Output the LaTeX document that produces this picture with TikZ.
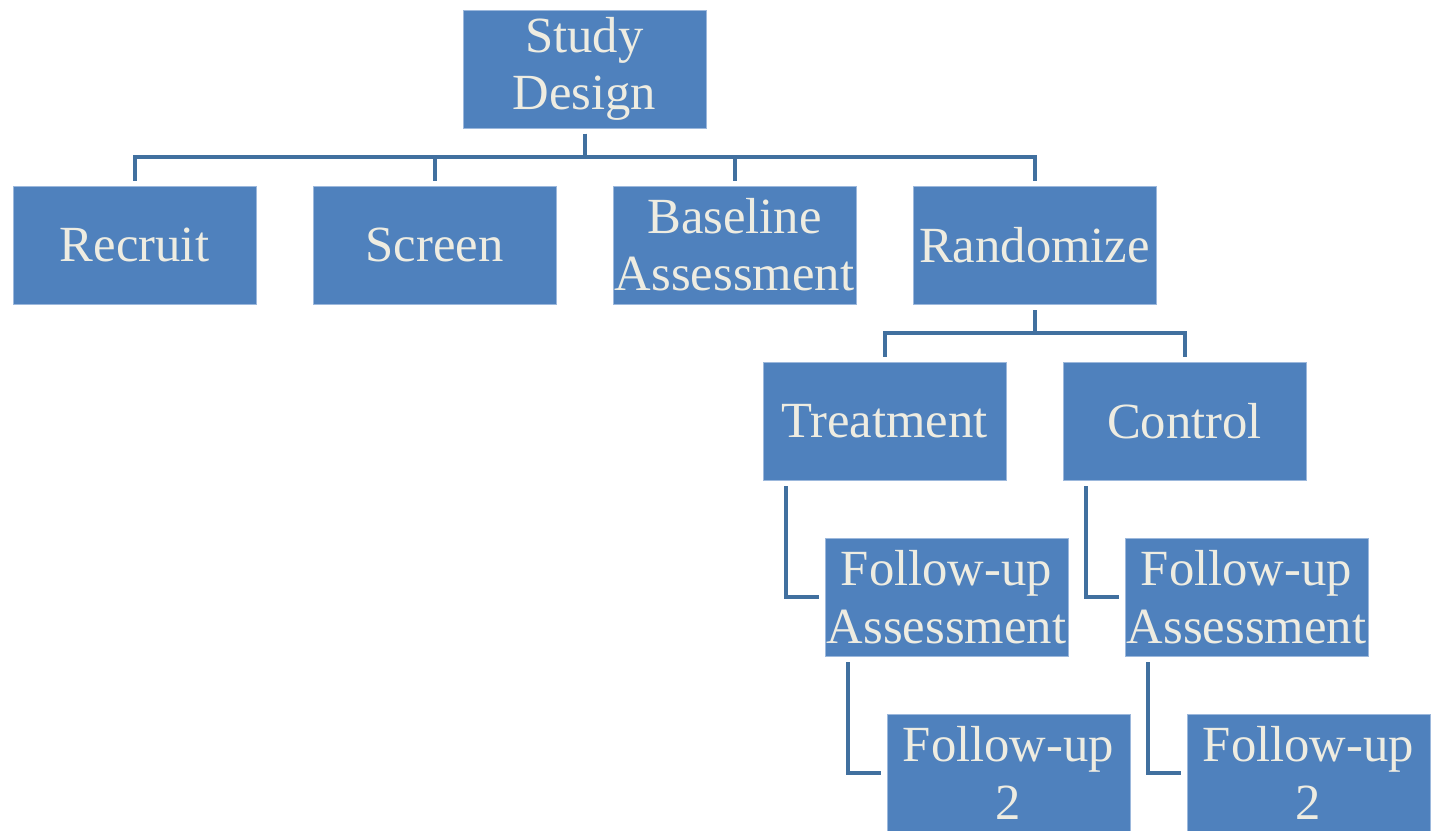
\documentclass[tikz,border=0pt]{standalone}
\usepackage{fontspec}
\setmainfont{Liberation Serif}
\usetikzlibrary{positioning}
\definecolor{boxblue}{HTML}{4F81BD}
\definecolor{edgeblue}{HTML}{9CB8DC}
\definecolor{lineblue}{HTML}{41709F}
\definecolor{boxtext}{HTML}{EEECE1}

\begin{document}
\begin{tikzpicture}[x=0.75pt,y=-0.75pt,
        node distance=43.5pt and 42.75pt,
        stage/.style={rectangle, fill=boxblue, draw=edgeblue, line width=0.6pt,
            minimum width=182.25pt, minimum height=88.5pt, inner sep=0pt, outer sep=0pt,
            align=center, text=boxtext, font=\fontsize{38}{43}\selectfont},
        conn/.style={draw=lineblue, line width=3pt, line join=miter}]
        \useasboundingbox (0,0) rectangle (1439,831);
        \node[stage] (study) at (584.5,69) {Study\\Design};
        \node[stage, below=of study, xshift=-337.5pt] (recruit) {Recruit};
        \node[stage, right=of recruit] (screen) {Screen};
        \node[stage, right=of screen] (baseline) {Baseline\\Assessment};
        \node[stage, right=of baseline] (randomize) {Randomize};
        \node[stage, below=of randomize, xshift=-112.5pt] (treatment) {Treatment};
        \node[stage, right=of treatment] (control) {Control};
        \node[stage, below=of treatment, xshift=46.5pt] (treatfu) {Follow-up\\Assessment};
        \node[stage, below=of control, xshift=46.5pt] (controlfu) {Follow-up\\Assessment};
        \node[stage, below=of treatfu, xshift=46.5pt] (treatfutwo) {Follow-up\\2};
        \node[stage, below=of controlfu, xshift=46.5pt] (controlfutwo) {Follow-up\\2};
        \foreach \n in {recruit,screen,baseline,randomize}
            \draw[conn] ([yshift=-4.5pt]study.south) -- ++(0pt,-17.5pt) -| ([yshift=3.75pt]\n.north);
        \foreach \n in {treatment,control}
            \draw[conn] ([yshift=-4.5pt]randomize.south) -- ++(0pt,-17.5pt) -| ([yshift=3.75pt]\n.north);
        % follow-up chains
        \draw[conn] ([xshift=17.25pt,yshift=-4.5pt]treatment.south west) |- ([xshift=-4.5pt]treatfu.west);
        \draw[conn] ([xshift=17.25pt,yshift=-4.5pt]control.south west) |- ([xshift=-4.5pt]controlfu.west);
        \draw[conn] ([xshift=17.25pt,yshift=-4.5pt]treatfu.south west) |- ([xshift=-4.5pt]treatfutwo.west);
        \draw[conn] ([xshift=17.25pt,yshift=-4.5pt]controlfu.south west) |- ([xshift=-4.5pt]controlfutwo.west);
\end{tikzpicture}
\end{document}
